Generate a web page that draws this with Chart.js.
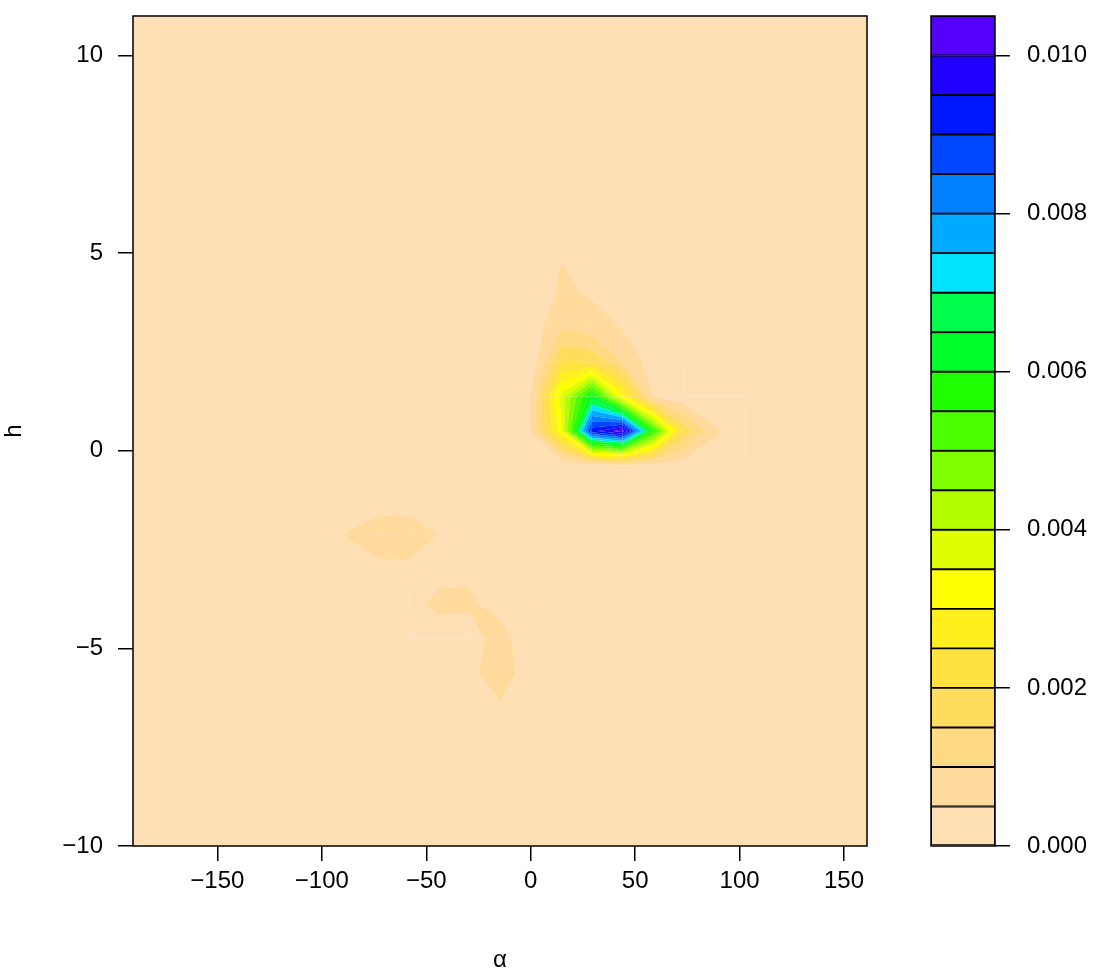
<!DOCTYPE html>
<html>
<head>
<meta charset="utf-8">
<script src="https://cdn.jsdelivr.net/npm/chart.js@4.4.1/dist/chart.umd.min.js"></script>
<style>
    html, body { margin: 0; padding: 0; background: #fff; }
    #wrap { position: relative; width: 1099px; height: 972px; }
    #wrap canvas { position: absolute; left: 0; top: 0; }
</style>
</head>
<body>
<div id="wrap">
    <canvas id="densityChart" width="1099" height="972"></canvas>
    <canvas id="keyChart" width="1099" height="972"></canvas>
</div>
<script>
// grid of the density estimate: alpha across, h from top to bottom
const alphaGrid = [-190.4, -175.76, -161.12, -146.48, -131.83, -117.19, -102.55, -87.91, -73.27, -58.63,
    -43.98, -29.34, -14.7, -0.06, 14.58, 29.23, 43.87, 58.51, 73.15, 87.79, 102.43, 117.08, 131.72, 146.36, 161.0];
const hGrid = [11, 10.125, 9.25, 8.375, 7.5, 6.625, 5.75, 4.875, 4.0, 3.125, 2.25, 1.375, 0.5,
    -0.375, -1.25, -2.125, -3.0, -3.875, -4.75, -5.625, -6.5, -7.375, -8.25, -9.125, -10];

// density values, one row per entry of hGrid, one column per entry of alphaGrid
const densityRows = [
    [0,0,0,0,0,0,0,0,0,0,0,0,0,0,0,0,0,0,0,0,0,0,0,0,0],
    [0,0,0,0,0,0,0,0,0,0,0,0,0,0,0,0,0,0,0,0,0,0,0,0,0],
    [0,0,0,0,0,0,0,0,0,0,0,0,0,0,0,0,0,0,0,0,0,0,0,0,0],
    [0,0,0,0,0,0,0,0,0,0,0,0,0,0,0,0,0,0,0,0,0,0,0,0,0],
    [0,0,0,0,0,0,0,0,0,0,0,0,0,0,0,0,0,0,0,0,0,0,0,0,0],
    [0,0,0,0,0,0,0,0,0,0,0,0,0,0,0,0,0,0,0,0,0,0,0,0,0],
    [0,0,0,0,0,0,0,0,0,0,0,0,0,0,0,0,0,0,0,0,0,0,0,0,0],
    [0,0,0,0,0,0,0,0,0,0,0,0,0,0.0001,0.00049,0.0002,0,0,0,0,0,0,0,0,0],
    [0,0,0,0,0,0,0,0,0,0,0,0,0,0.0001,0.00059,0.00044,0.0003,0.0001,0,0,0,0,0,0,0],
    [0,0,0,0,0,0,0,0,0,0,0,0,0,0.00014,0.00098,0.00073,0.00048,0.0001,0,0,0,0,0,0,0],
    [0,0,0,0,0,0,0,0,0,0,0,0,0,0.00014,0.002,0.0019,0.001,0.0002,0,0,0,0,0,0,0],
    [0,0,0,0,0,0,0,0,0,0,0,0,0,0.00052,0.0037,0.0063,0.0031,0.00052,0.00015,0,0,0,0,0,0],
    [0,0,0,0,0,0,0,0,0,0,0,0,0,0.00052,0.0033,0.0093,0.0103,0.0057,0.00188,0.0006,0.00024,0,0,0,0],
    [0,0,0,0,0,0,0,0,0,0,0,0,0,0,0.00003,0.00015,0.0003,0.0003,0.00024,0.0001,0,0,0,0,0],
    [0,0,0,0,0,0,0,0.0002,0.0002,0.0002,0.0001,0,0,0,0,0,0,0,0,0,0,0,0,0,0],
    [0,0,0,0,0,0,0.0003,0.00053,0.00085,0.0009,0.00049,0,0,0,0,0,0,0,0,0,0,0,0,0,0],
    [0,0,0,0,0,0,0,0.0002,0.00034,0.00035,0.00021,0.0004,0.0002,0,0,0,0,0,0,0,0,0,0,0,0],
    [0,0,0,0,0,0,0,0,0,0.0002,0.00074,0.0006,0.00025,0,0,0,0,0,0,0,0,0,0,0,0],
    [0,0,0,0,0,0,0,0,0,0,0,0.0002,0.0008,0,0,0,0,0,0,0,0,0,0,0,0],
    [0,0,0,0,0,0,0,0,0,0,0,0.00036,0.0008,0.0002,0,0,0,0,0,0,0,0,0,0,0],
    [0,0,0,0,0,0,0,0,0,0,0,0.0001,0.00043,0.0001,0,0,0,0,0,0,0,0,0,0,0],
    [0,0,0,0,0,0,0,0,0,0,0,0,0,0,0,0,0,0,0,0,0,0,0,0,0],
    [0,0,0,0,0,0,0,0,0,0,0,0,0,0,0,0,0,0,0,0,0,0,0,0,0],
    [0,0,0,0,0,0,0,0,0,0,0,0,0,0,0,0,0,0,0,0,0,0,0,0,0],
    [0,0,0,0,0,0,0,0,0,0,0,0,0,0,0,0,0,0,0,0,0,0,0,0,0]
];

const levels = [0, 0.0005, 0.001, 0.0015, 0.002, 0.0025, 0.003, 0.0035, 0.004, 0.0045, 0.005,
    0.0055, 0.006, 0.0065, 0.007, 0.0075, 0.008, 0.0085, 0.009, 0.0095, 0.01, 0.0105];
const bandColors = ["#FFDFB3", "#FFDA9C", "#FFDA82", "#FFDC5E", "#FFE23F", "#FFEF1F", "#FFFF00",
    "#DDFF00", "#B3FF00", "#80FF00", "#4CFF00", "#1EFF00", "#00FF2A", "#00FF4C", "#00E5FF",
    "#00AAFF", "#0080FF", "#0048FF", "#0018FF", "#2200FF", "#5500FF"];

const xTicks = [-150, -100, -50, 0, 50, 100, 150];
const yTicks = [-10, -5, 0, 5, 10];
const keyTicks = [0, 0.002, 0.004, 0.006, 0.008, 0.010];

Chart.defaults.font.family = "'Liberation Sans', Arial, sans-serif";
Chart.defaults.font.size = 24;
Chart.defaults.color = "#000";

function minusLabel(v) {
    return v < 0 ? "\u2212" + Math.abs(v) : String(v);
}

function bandOf(z) {
    for (let i = levels.length - 2; i >= 0; i--) {
        if (z >= levels[i]) return i;
    }
    return 0;
}

// piece of one grid cell that lies between lo and hi (same idea as R's filled.contour)
function bandPolygon(corners, lo, hi) {
    const pts = [];
    for (let i = 0; i < 4; i++) {
        const a = corners[i], b = corners[(i + 1) % 4];
        if (a.z >= lo && a.z < hi) pts.push([a.px, a.py]);
        const cuts = [];
        [lo, hi].forEach(L => {
            if ((a.z < L && b.z >= L) || (a.z >= L && b.z < L)) {
                cuts.push((L - a.z) / (b.z - a.z));
            }
        });
        cuts.sort((p, q) => p - q);
        cuts.forEach(t => pts.push([a.px + t * (b.px - a.px), a.py + t * (b.py - a.py)]));
    }
    return pts;
}

const filledContour = {
    id: "filledContour",
    beforeDatasetsDraw(chart) {
        const ctx = chart.ctx;
        const area = chart.chartArea;
        const xs = chart.scales.x, ys = chart.scales.y;
        const nodes = chart.data.datasets[0].data;
        const nx = alphaGrid.length, ny = hGrid.length;
        const node = (r, k) => {
            const p = nodes[r * nx + k];
            return { px: xs.getPixelForValue(p.x), py: ys.getPixelForValue(p.y), z: p.z };
        };

        ctx.save();
        ctx.beginPath();
        ctx.rect(area.left, area.top, area.right - area.left, area.bottom - area.top);
        ctx.clip();
        // pale underlay so the seams between cell pieces stay faint
        ctx.fillStyle = "#FFEDD6";
        ctx.fillRect(area.left, area.top, area.right - area.left, area.bottom - area.top);

        for (let r = 0; r < ny - 1; r++) {
            for (let k = 0; k < nx - 1; k++) {
                const corners = [node(r, k), node(r, k + 1), node(r + 1, k + 1), node(r + 1, k)];
                const bands = corners.map(c => bandOf(c.z));
                const bMin = Math.min(...bands), bMax = Math.max(...bands);
                if (bMin === bMax) {
                    const x0 = Math.round(corners[0].px), x1 = Math.round(corners[1].px);
                    const y0 = Math.round(corners[0].py), y1 = Math.round(corners[3].py);
                    ctx.fillStyle = bandColors[bMin];
                    ctx.fillRect(x0, y0, x1 - x0, y1 - y0);
                    continue;
                }
                for (let b = bMin; b <= bMax; b++) {
                    const poly = bandPolygon(corners, levels[b], levels[b + 1]);
                    if (poly.length < 3) continue;
                    ctx.beginPath();
                    ctx.moveTo(poly[0][0], poly[0][1]);
                    for (let i = 1; i < poly.length; i++) ctx.lineTo(poly[i][0], poly[i][1]);
                    ctx.closePath();
                    ctx.fillStyle = bandColors[b];
                    ctx.fill();
                }
            }
        }
        ctx.restore();
    }
};

const boxFrame = {
    id: "boxFrame",
    afterDraw(chart) {
        const { ctx, chartArea: a } = chart;
        ctx.save();
        ctx.strokeStyle = "#000";
        ctx.lineWidth = 1.5;
        ctx.strokeRect(a.left, a.top, a.right - a.left, a.bottom - a.top);
        ctx.restore();
    }
};

const gridNodes = [];
hGrid.forEach((h, r) => {
    alphaGrid.forEach((a, k) => {
        gridNodes.push({ x: a, y: h, z: densityRows[r][k] });
    });
});

const tickGrid = { drawOnChartArea: false, drawTicks: true, tickLength: 15, color: "#000", lineWidth: 1.5 };

function fixWidth(w) {
    return s => { s.width = w; s.paddingTop = 0; s.paddingBottom = 0; };
}
function fixHeight(h) {
    return s => { s.height = h; s.paddingLeft = 0; s.paddingRight = 0; };
}

new Chart("densityChart", {
    type: "scatter",
    data: {
        datasets: [{
            label: "density",
            data: gridNodes,
            pointRadius: 0,
            showLine: false
        }]
    },
    options: {
        responsive: false,
        animation: false,
        devicePixelRatio: 1,
        events: [],
        layout: { padding: { top: 16, right: 232, left: 0, bottom: 0 } },
        plugins: { legend: { display: false }, tooltip: { enabled: false } },
        scales: {
            x: {
                type: "linear",
                min: -190.4,
                max: 161,
                afterBuildTicks: s => { s.ticks = xTicks.map(v => ({ value: v })); },
                afterFit: fixHeight(126),
                grid: tickGrid,
                border: { display: false },
                ticks: { callback: v => minusLabel(v), padding: 6, maxRotation: 0, autoSkip: false },
                title: { display: true, text: "α", font: { size: 24, lineHeight: 1 }, padding: { top: 0, bottom: 0 } }
            },
            y: {
                type: "linear",
                min: -10,
                max: 11,
                afterBuildTicks: s => { s.ticks = yTicks.map(v => ({ value: v })); },
                afterFit: fixWidth(133),
                grid: tickGrid,
                border: { display: false },
                ticks: { callback: v => minusLabel(v), padding: 15, autoSkip: false },
                title: { display: true, text: "h", font: { size: 24, lineHeight: 1 }, padding: { top: 2, bottom: 0 } }
            }
        }
    },
    plugins: [filledContour, boxFrame]
});

// colour key: one floating bar per level band
new Chart("keyChart", {
    type: "bar",
    data: {
        labels: ["key"],
        datasets: bandColors.map((c, i) => ({
            label: levels[i] + "-" + levels[i + 1],
            data: [[levels[i], levels[i + 1]]],
            backgroundColor: c,
            borderColor: "#000",
            borderWidth: 1.3,
            borderSkipped: false,
            barPercentage: 1,
            categoryPercentage: 1
        }))
    },
    options: {
        responsive: false,
        animation: false,
        devicePixelRatio: 1,
        events: [],
        layout: { padding: { top: 16, right: 0, left: 931, bottom: 126 } },
        plugins: { legend: { display: false }, tooltip: { enabled: false } },
        scales: {
            x: { display: false, stacked: true },
            y: {
                position: "right",
                min: 0,
                max: 0.0105,
                afterBuildTicks: s => { s.ticks = keyTicks.map(v => ({ value: v })); },
                afterFit: fixWidth(104),
                grid: tickGrid,
                border: { display: false },
                ticks: { callback: v => v.toFixed(3), padding: 17, autoSkip: false }
            }
        }
    },
    plugins: [boxFrame]
});
</script>
</body>
</html>
